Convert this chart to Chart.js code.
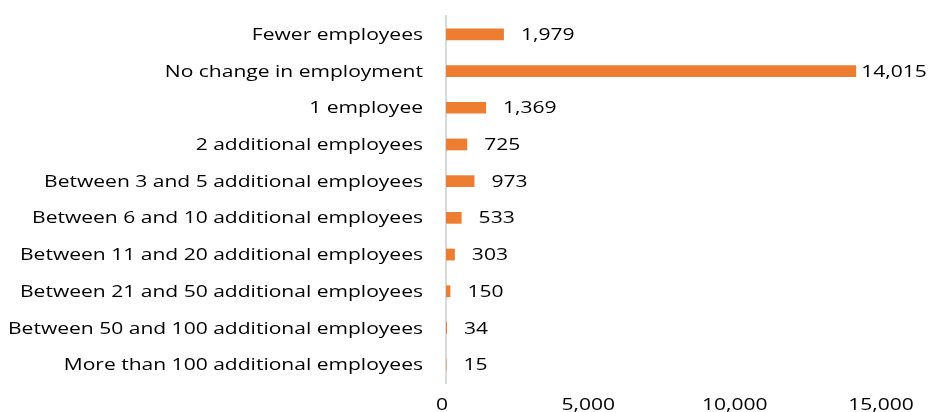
<!DOCTYPE html>
<html>
<head>
<meta charset="utf-8">
<script src="https://cdn.jsdelivr.net/npm/chart.js@4/dist/chart.umd.min.js"></script>
<style>
html,body{margin:0;padding:0;background:#fff;}
#wrap{width:929px;height:412px;position:relative;}
</style>
</head>
<body>
<div id="wrap"><canvas id="c" width="929" height="412"></canvas></div>
<script>
const categories = [
  "Fewer employees",
  "No change in employment",
  "1 employee",
  "2 additional employees",
  "Between 3 and 5 additional employees",
  "Between 6 and 10 additional employees",
  "Between 11 and 20 additional employees",
  "Between 21 and 50 additional employees",
  "Between 50 and 100 additional employees",
  "More than 100 additional employees"
];
const counts = [1979, 14015, 1369, 725, 973, 533, 303, 150, 34, 15];
const xTicks = [0, 5000, 10000, 15000];

const FONT_CSS = "16px 'Open Sans', sans-serif";
const fmt = v => v.toLocaleString('en-US');

// horizontal stretch of the text to mimic the reference's wide lettering
let SX = 1;
function stretchedText(ctx, txt, x, y, align) {
  const w = ctx.measureText(txt).width * SX;
  let left = x;
  if (align === 'right') left = x - w;
  else if (align === 'center') left = x - w / 2;
  ctx.save();
  ctx.translate(left, y);
  ctx.scale(SX, 1);
  ctx.textAlign = 'left';
  ctx.fillText(txt, 0, 0);
  ctx.restore();
  return w;
}

const textPlugin = {
  id: 'textPlugin',
  afterDraw(chart) {
    const ctx = chart.ctx;
    const ys = chart.scales.y, xs = chart.scales.x;
    const meta = chart.getDatasetMeta(0);
    ctx.save();
    ctx.font = FONT_CSS;
    ctx.fillStyle = '#000';
    ctx.textBaseline = 'middle';
    SX = 415 / ctx.measureText(categories[8]).width;
    // category labels
    categories.forEach((c, i) => {
      stretchedText(ctx, c, chart.chartArea.left - 23, ys.getPixelForValue(i) + 1, 'right');
    });
    // value labels
    meta.data.forEach((bar, i) => {
      const txt = fmt(counts[i]);
      const w = ctx.measureText(txt).width * SX;
      let x = bar.x + 17;
      if (x + w > chart.width - 11) x = Math.max(bar.x + 5, chart.width - 11 - w);
      stretchedText(ctx, txt, x, bar.y + 1, 'left');
    });
    // x tick labels
    xTicks.forEach(v => {
      stretchedText(ctx, fmt(v), xs.getPixelForValue(v) - 4, chart.chartArea.bottom + 22, 'center');
    });
    ctx.restore();
  }
};

new Chart(document.getElementById('c'), {
  type: 'bar',
  data: {
    labels: categories,
    datasets: [{
      data: counts,
      backgroundColor: '#ED7D31',
      borderWidth: 0,
      categoryPercentage: 0.32,
      barPercentage: 1
    }]
  },
  options: {
    indexAxis: 'y',
    responsive: false,
    animation: false,
    layout: {padding: {top: 16, right: 44, bottom: 0, left: 0}},
    plugins: {legend: {display: false}, tooltip: {enabled: false}},
    scales: {
      x: {
        min: 0, max: 15000,
        afterBuildTicks: s => { s.ticks = xTicks.map(v => ({value: v})); },
        grid: {display: false},
        border: {display: false},
        ticks: {display: false},
        afterFit: s => { s.height = 29; }
      },
      y: {
        grid: {display: false},
        border: {display: true, color: '#D9D9D9', width: 2},
        ticks: {display: false},
        afterFit: s => { s.width = 446; }
      }
    }
  },
  plugins: [textPlugin]
});
</script>
</body>
</html>
